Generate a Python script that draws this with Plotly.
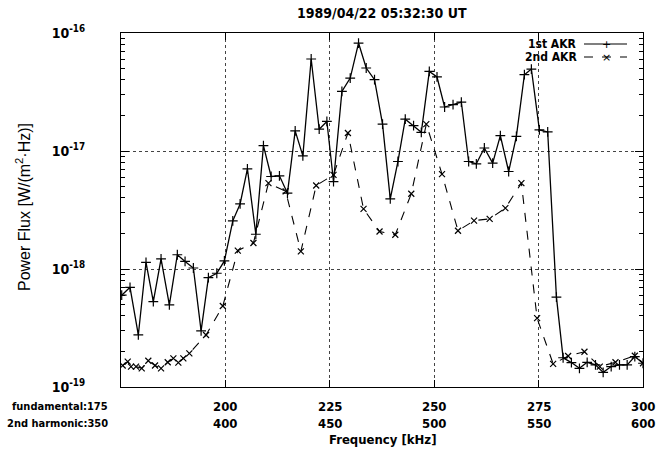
import plotly.graph_objects as go

# ---- data (frequency in kHz of fundamental, power flux in W/(m^2 Hz)) ----
f_1st = [175.17, 177.16, 179.15, 180.99, 182.74, 184.59, 186.58, 188.49, 190.34, 192.33,
         194.18, 195.93, 197.94, 199.76, 201.77, 203.52, 205.27, 207.29, 209.11, 210.95,
         212.94, 214.86, 216.71, 218.55, 220.54, 222.46, 224.30, 225.89, 227.90, 229.89,
         231.88, 233.72, 235.71, 237.63, 239.48, 241.32, 243.07, 245.06, 246.91, 248.83,
         250.67, 252.49, 254.51, 256.50, 258.25, 260.09, 262.01, 264.00, 265.84, 267.83,
         269.68, 271.60, 273.27, 275.19, 277.18, 279.27, 280.87, 282.86, 284.78, 286.63,
         288.62, 290.46, 292.38, 294.37, 296.21, 298.04, 300.0]
p_1st = [6.0e-19, 7.0e-19, 2.76e-19, 1.14e-18, 5.3e-19, 1.22e-18, 4.96e-19, 1.32e-18, 1.16e-18, 1.02e-18,
         2.99e-19, 8.45e-19, 9.2e-19, 1.17e-18, 2.56e-18, 3.56e-18, 7.06e-18, 1.97e-18, 1.11e-17, 6.08e-18,
         6.16e-18, 4.39e-18, 1.48e-17, 9.1e-18, 6.02e-17, 1.53e-17, 1.78e-17, 5.51e-18, 3.20e-17, 4.15e-17,
         8.22e-17, 5.05e-17, 4.02e-17, 1.69e-17, 3.93e-18, 8.15e-18, 1.86e-17, 1.64e-17, 1.44e-17, 4.72e-17,
         4.24e-17, 2.36e-17, 2.47e-17, 2.60e-17, 8.15e-18, 7.79e-18, 1.06e-17, 7.9e-18, 1.35e-17, 6.70e-18,
         1.33e-17, 4.43e-17, 4.95e-17, 1.51e-17, 1.45e-17, 5.77e-19, 1.77e-19, 1.61e-19, 1.44e-19, 1.62e-19,
         1.54e-19, 1.33e-19, 1.49e-19, 1.54e-19, 1.54e-19, 1.81e-19, 1.59e-19]

f_2nd = [175.41, 176.61, 177.40, 178.60, 179.96, 181.54, 183.15, 184.59, 186.19, 187.54,
         188.73, 189.93, 191.37, 195.37, 199.38, 202.97, 206.71, 210.31, 214.43, 218.07,
         221.74, 225.89, 229.34, 233.08, 236.91, 240.68, 244.51, 248.11, 251.87, 255.70,
         259.54, 263.28, 267.04, 270.88, 274.64, 278.48, 282.07, 285.98, 289.65, 293.41,
         298.04, 300.0]
p_2nd = [1.52e-19, 1.64e-19, 1.49e-19, 1.49e-19, 1.44e-19, 1.67e-19, 1.52e-19, 1.44e-19, 1.62e-19, 1.75e-19,
         1.61e-19, 1.75e-19, 1.93e-19, 2.76e-19, 4.86e-19, 1.43e-18, 1.66e-18, 5.34e-18, 4.55e-18, 1.41e-18,
         5.10e-18, 6.28e-18, 1.42e-17, 3.23e-18, 2.08e-18, 1.95e-18, 4.34e-18, 1.69e-17, 6.37e-18, 2.11e-18,
         2.57e-18, 2.66e-18, 3.28e-18, 5.34e-18, 3.83e-19, 1.57e-19, 1.83e-19, 1.99e-19, 1.49e-19, 1.62e-19,
         1.84e-19, 1.59e-19]

x_ticks = [175, 200, 225, 250, 275, 300]
fund_labels = ["200", "225", "250", "275", "300"]
harm_labels = ["400", "450", "500", "550", "600"]
y_ticks = [1e-19, 1e-18, 1e-17, 1e-16]
y_tick_text = ["10<sup>-19</sup>", "10<sup>-18</sup>", "10<sup>-17</sup>", "10<sup>-16</sup>"]
y_minor = [m * 10.0 ** e for e in (-19, -18, -17) for m in range(2, 10)]

FONT = "DejaVu Sans Condensed, DejaVu Sans, sans-serif"
SANS = "Liberation Sans, Arial, sans-serif"

fig = go.Figure()
fig.add_trace(go.Scatter(
    x=f_1st, y=p_1st, mode="lines+markers", name="1st AKR",
    line=dict(color="black", width=1.3),
    marker=dict(symbol="cross-thin", size=7, line=dict(color="black", width=1.2)),
    showlegend=False))
fig.add_trace(go.Scatter(
    x=f_2nd, y=p_2nd, mode="lines+markers", name="2nd AKR",
    line=dict(color="black", width=1.1, dash="dash"),
    marker=dict(symbol="x-thin", size=6, line=dict(color="black", width=1.2)),
    showlegend=False))

W, H = 657, 449
L, R, T, B = 121, 14, 33, 62
pw, ph = W - L - R, H - T - B

def px(xp):
    return (xp - L) / pw

def py(yp):
    return (H - B - yp) / ph

fig.update_layout(
    width=W, height=H,
    margin=dict(l=L, r=R, t=T, b=B, autoexpand=False),
    paper_bgcolor="white", plot_bgcolor="white",
    font=dict(family=FONT, size=13, color="black", weight="bold"),
    showlegend=False,
)
fig.update_xaxes(
    range=[175, 300], tickvals=x_ticks, showticklabels=False, automargin=False,
    showline=True, linecolor="black", linewidth=1.2, mirror="ticks",
    ticks="inside", ticklen=7, tickcolor="black",
    showgrid=True, gridcolor="#444", griddash="dot", gridwidth=1,
    zeroline=False,
)
fig.update_yaxes(
    type="log", range=[-19, -16], tickvals=y_ticks, ticktext=y_tick_text, automargin=False,
    showline=True, linecolor="black", linewidth=1.2, mirror="ticks",
    ticks="inside", ticklen=8, tickcolor="black",
    minor=dict(ticks="inside", ticklen=4, tickcolor="black", showgrid=False, tickvals=y_minor),
    showgrid=True, gridcolor="#444", griddash="dot", gridwidth=1,
    zeroline=False, tickfont=dict(size=14, family=FONT, weight="bold"), ticklabelstandoff=32,
)

B_ = "bold"
ann = []
# x tick labels (two rows: fundamental / 2nd harmonic)
for xv, t1, t2 in zip(x_ticks[1:], fund_labels, harm_labels):
    ann.append(dict(text=t1, xref="x", yref="paper", x=xv, y=py(406),
                    xanchor="center", yanchor="middle", showarrow=False,
                    font=dict(size=13, weight=B_)))
    ann.append(dict(text=t2, xref="x", yref="paper", x=xv, y=py(423),
                    xanchor="center", yanchor="middle", showarrow=False,
                    font=dict(size=13, weight=B_)))
ann.append(dict(text="fundamental:175", xref="paper", yref="paper",
                x=px(110), y=py(406), xanchor="right", yanchor="middle",
                showarrow=False, font=dict(size=11, weight=B_)))
ann.append(dict(text="2nd harmonic:350", xref="paper", yref="paper",
                x=px(110), y=py(423), xanchor="right", yanchor="middle",
                showarrow=False, font=dict(size=11, weight=B_)))
ann.append(dict(text="Frequency [kHz]", xref="paper", yref="paper",
                x=px(383), y=py(439), xanchor="center", yanchor="middle",
                showarrow=False, font=dict(size=13, weight=B_)))
ann.append(dict(text="1989/04/22 05:32:30 UT", xref="paper", yref="paper",
                x=px(382), y=py(13), xanchor="center", yanchor="middle",
                showarrow=False, font=dict(size=14, weight=B_)))
ann.append(dict(text="Power Flux [W/(m<sup>2</sup>·Hz)]", xref="paper", yref="paper",
                x=px(23), y=py(207), xanchor="center", yanchor="middle", textangle=-90,
                showarrow=False, font=dict(size=16, family=SANS, weight="normal")))
# legend
for i, (lab, sym, dash) in enumerate([("1st AKR", "+", "solid"), ("2nd AKR", "×", "dash")]):
    yy = 44 + 13 * i
    ann.append(dict(text=lab, xref="paper", yref="paper", x=px(579), y=py(yy),
                    xanchor="right", yanchor="middle", showarrow=False,
                    font=dict(size=12, weight=B_)))
    fig.add_shape(type="line", xref="paper", yref="paper",
                  x0=px(584), x1=px(627), y0=py(yy), y1=py(yy),
                  line=dict(color="black", width=1.2, dash=dash))
    ann.append(dict(text=sym, xref="paper", yref="paper", x=px(606), y=py(yy),
                    xanchor="center", yanchor="middle", showarrow=False,
                    font=dict(size=11, family="DejaVu Sans", weight="normal")))
fig.update_layout(annotations=ann)

fig.write_html("out.html")
